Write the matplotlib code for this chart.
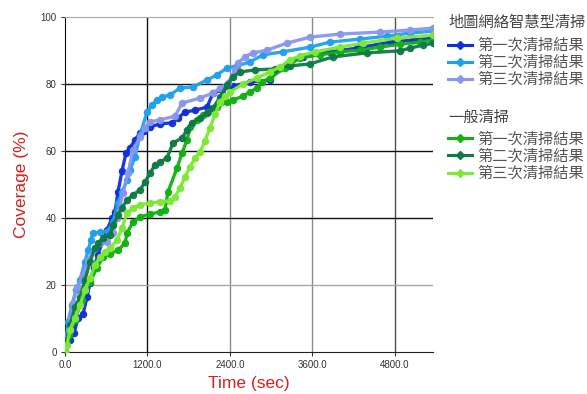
import matplotlib
matplotlib.use("Agg")
import matplotlib.pyplot as plt
from matplotlib.lines import Line2D

plt.rcParams['font.family'] = ['Liberation Sans', 'Noto Sans CJK TC', 'DejaVu Sans']

# ---- data (time in seconds, coverage in %) ----
smart1_t = [0, 73, 131, 189, 262, 320, 364, 422, 480, 553, 611, 684, 727, 771, 829, 887, 945, 1018, 1091, 1149,
            1236, 1382, 1556, 1644, 1745, 1891, 2065, 2153, 2284, 2444, 2691, 2982, 3127, 3273, 3462, 3854, 4247,
            4727, 5062, 5353]
smart1_c = [0, 3.6, 5.7, 10.1, 11.3, 16.4, 20.6, 25.1, 29.0, 33.4, 36.4, 40.0, 41.8, 47.8, 54.0, 59.4, 60.9, 63.3,
            65.4, 66.0, 67.2, 68.1, 68.4, 69.9, 71.6, 72.2, 73.1, 77.3, 78.2, 79.4, 80.6, 81.2, 84.8, 86.6, 88.1,
            89.6, 90.7, 92.5, 93.1, 93.7]

smart2_t = [0, 44, 102, 160, 218, 291, 335, 378, 407, 509, 625, 698, 771, 829, 902, 945, 1018, 1091, 1193, 1265,
            1338, 1411, 1527, 1673, 1862, 2065, 2211, 2356, 2502, 2691, 2880, 3171, 3564, 3854, 4291, 4684, 5018, 5353]
smart2_c = [0, 9.0, 14.0, 18.5, 21.5, 26.9, 30.4, 33.4, 35.5, 35.8, 36.1, 38.8, 44.5, 47.8, 51.3, 54.3, 58.2, 64.8,
            71.6, 73.7, 75.2, 76.1, 76.7, 78.8, 79.1, 81.2, 82.7, 84.8, 85.4, 86.6, 88.7, 89.6, 91.0, 92.5, 93.4,
            94.3, 95.2, 95.8]

smart3_t = [0, 44, 87, 116, 175, 262, 335, 436, 509, 611, 698, 756, 844, 916, 989, 1091, 1164, 1236, 1382, 1600,
            1702, 1964, 2153, 2255, 2371, 2473, 2516, 2618, 2735, 2938, 3229, 3564, 4000, 4582, 5018, 5353]
smart3_c = [0, 5.1, 10.1, 14.6, 19.4, 23.0, 27.5, 31.0, 32.5, 32.8, 35.5, 40.0, 47.5, 53.4, 60.3, 64.2, 66.9, 68.7,
            69.3, 70.4, 74.3, 75.8, 77.3, 78.8, 80.3, 84.2, 86.3, 88.1, 89.3, 90.1, 92.2, 94.0, 94.9, 95.5, 96.1, 96.7]

gen1_t = [0, 58, 145, 247, 364, 465, 553, 655, 771, 873, 902, 989, 1091, 1236, 1382, 1455, 1498, 1629, 1702, 1775,
          1818, 1920, 2007, 2080, 2211, 2356, 2444, 2589, 2691, 2793, 2865, 2982, 3200, 3418, 3709, 4000, 4291,
          4582, 4873, 5164, 5353]
gen1_c = [0, 5.1, 9.6, 15.5, 20.9, 25.1, 28.4, 29.3, 30.4, 32.5, 35.5, 38.8, 40.3, 41.2, 41.8, 42.4, 47.8, 54.9,
          59.4, 63.3, 67.2, 69.3, 70.7, 71.6, 73.1, 74.6, 75.2, 76.4, 77.6, 78.8, 80.6, 81.8, 84.8, 87.8, 88.7,
          89.6, 90.1, 91.0, 91.9, 92.5, 93.1]

gen2_t = [0, 29, 73, 145, 218, 291, 364, 436, 480, 553, 655, 698, 771, 829, 902, 989, 1091, 1164, 1236, 1309, 1382,
          1484, 1571, 1702, 1775, 1847, 1964, 2065, 2153, 2255, 2356, 2444, 2545, 2764, 3055, 3273, 3564, 3898,
          4393, 4873, 5018, 5207, 5353]
gen2_c = [0, 3.6, 8.1, 13.4, 16.4, 21.5, 26.9, 31.0, 32.5, 34.0, 34.9, 37.9, 40.9, 43.0, 45.4, 46.9, 48.4, 50.7,
          53.4, 55.8, 56.7, 57.9, 62.4, 63.9, 66.3, 68.4, 69.9, 71.3, 72.8, 76.1, 79.7, 82.1, 83.6, 84.2, 84.5,
          85.4, 86.0, 88.1, 89.3, 89.9, 90.7, 91.6, 92.2]

gen3_t = [0, 29, 73, 145, 218, 291, 364, 436, 509, 582, 655, 756, 829, 902, 989, 1091, 1236, 1382, 1527, 1600, 1673,
          1745, 1818, 1891, 1964, 2036, 2109, 2182, 2255, 2327, 2400, 2589, 2793, 2982, 3127, 3273, 3418, 3636,
          4000, 4334, 4829, 5353]
gen3_c = [0, 2.1, 6.6, 10.1, 14.0, 18.5, 22.1, 26.0, 28.4, 29.9, 31.0, 33.4, 37.0, 41.5, 43.0, 43.9, 44.5, 44.8,
          45.1, 46.3, 49.0, 52.2, 55.2, 57.9, 59.7, 63.0, 66.9, 71.0, 74.6, 76.4, 77.6, 80.0, 81.8, 83.6, 85.1,
          87.2, 88.4, 89.6, 91.0, 92.2, 93.7, 94.6]

group_titles = ["地圖網絡智慧型清掃", "一般清掃"]
run_labels = ["第一次清掃結果", "第二次清掃結果", "第三次清掃結果"]
x_ticks = [0, 1200, 2400, 3600, 4800]
x_tick_labels = ["0.0", "1200.0", "2400.0", "3600.0", "4800.0"]
y_ticks = [0, 20, 40, 60, 80, 100]
x_label = "Time (sec)"
y_label = "Coverage (%)"

smart_colors = ["#1030d8", "#20a0ec", "#8896ee"]
gen_colors = ["#12b012", "#0f7a45", "#7ee838"]

fig = plt.figure(figsize=(5.87, 3.94), dpi=100)
ax = fig.add_axes([65 / 587, 42 / 394, 368 / 587, 335 / 394])

# grid lines
vgrid_colors = ["#111111", "#8a8a8a", "#8a8a8a", "#505050"]
for xv, c in zip(x_ticks[1:], vgrid_colors):
    ax.axvline(xv, color=c, lw=1.0, zorder=1)
hgrid_colors = ["#a8a8a8", "#111111", "#111111", "#111111"]
for yv, c in zip(y_ticks[1:5], hgrid_colors):
    ax.axhline(yv, color=c, lw=1.0, zorder=1)

series = [
    (smart1_t, smart1_c, smart_colors[0]),
    (smart2_t, smart2_c, smart_colors[1]),
    (smart3_t, smart3_c, smart_colors[2]),
    (gen1_t, gen1_c, gen_colors[0]),
    (gen2_t, gen2_c, gen_colors[1]),
    (gen3_t, gen3_c, gen_colors[2]),
]
for t, c, col in series:
    ax.plot(t, c, color=col, lw=2.4, marker='o', ms=4.4, mec=col, mfc=col, zorder=3, alpha=0.95)

ax.set_xlim(0, 5353)
ax.set_ylim(0, 100)
ax.set_xticks(x_ticks)
ax.set_xticklabels(x_tick_labels)
ax.set_yticks(y_ticks)
ax.tick_params(axis='both', labelsize=7, colors="#333333", length=3, width=0.8, pad=3)
ax.spines['right'].set_visible(False)
ax.spines['top'].set_color("#a8a8a8")
ax.spines['left'].set_color("#111111")
ax.spines['bottom'].set_color("#222222")

ax.set_xlabel(x_label, color="#d42020", fontsize=12.5, labelpad=4)
ax.set_ylabel(y_label, color="#d42020", fontsize=12.5, labelpad=8)

def make_handles(colors):
    return [Line2D([0], [0], color=c, lw=2.2, marker='D', ms=4, mfc=c, mec=c) for c in colors]

leg_kw = dict(frameon=False, fontsize=11, title_fontsize=11, labelspacing=0.18, handlelength=1.6,
              handletextpad=0.3, borderpad=0, borderaxespad=0, alignment='left', labelcolor="#555555")
leg1 = fig.legend(make_handles(smart_colors), run_labels, title=group_titles[0],
                  loc='upper left', bbox_to_anchor=(448 / 587, 1 - 15 / 394), **leg_kw)
leg1.get_title().set_color("#444444")
leg1._legend_box.sep = 6.5
leg2 = fig.legend(make_handles(gen_colors), run_labels, title=group_titles[1],
                  loc='upper left', bbox_to_anchor=(448 / 587, 1 - 111 / 394), **leg_kw)
leg2.get_title().set_color("#444444")
leg2._legend_box.sep = 5.0

fig.savefig("out.png", dpi=100)
